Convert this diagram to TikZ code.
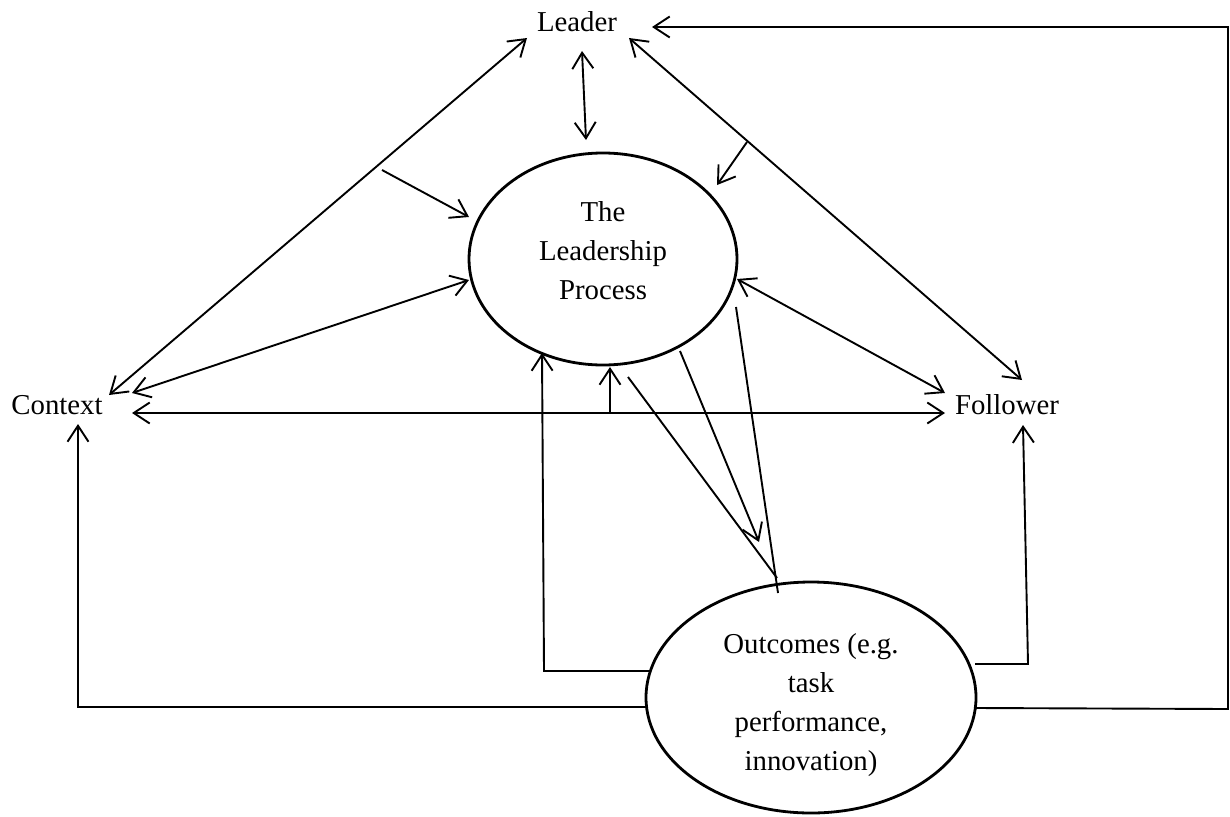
\documentclass[tikz,border=0pt]{standalone}
\usepackage{fontspec}
\setmainfont{Liberation Serif}
\usetikzlibrary{arrows.meta,shapes.geometric}
\begin{document}
\begin{tikzpicture}[x=1pt,y=-1pt,
  conn/.style={line width=1.9pt, line join=miter},
  hd/.style={-{Straight Barb[length=16pt,width=21pt]}},
  dbl/.style={{Straight Barb[length=16pt,width=21pt]}-{Straight Barb[length=16pt,width=21pt]}},
  lbl/.style={font=\fontsize{28.8}{39}\selectfont, inner sep=0pt, align=center},
  oval/.style={ellipse, draw, line width=2.8pt, inner sep=0pt}]
\useasboundingbox (0,0) rectangle (1230,816);
% nodes
\node[lbl] (leader) at (577,22) {Leader};
\node[lbl] (context) at (57,405) {Context};
\node[lbl] (follower) at (1007,405) {Follower};
\node[oval, minimum width=268pt, minimum height=212pt] (proc) at (603,259) {};
\node[lbl] (proctext) at (603,251) {The\\Leadership\\Process};
\node[oval, minimum width=330pt, minimum height=231pt] (out) at (811,697.5) {};
\node[lbl] (outtext) at (811,705) {Outcomes (e.g.\\task\\performance,\\innovation)};
% end points
\coordinate (cL) at (109,395);   \coordinate (lC) at (527,38);
\coordinate (lP) at (582,51);    \coordinate (pL) at (586,140);
\coordinate (lF) at (629,38);    \coordinate (fL) at (1022,380);
\coordinate (mR) at (747,142);   \coordinate (pR) at (717,185);
\coordinate (mL) at (382,170);   \coordinate (pLL) at (469,217);
\coordinate (cP) at (132,393);   \coordinate (pC) at (469,280);
\coordinate (cF) at (132,413);   \coordinate (fC) at (945,413);
\coordinate (hm) at (610,413);   \coordinate (pB) at (610,367);
\coordinate (pF) at (737,279);   \coordinate (fP) at (945,393);
\coordinate (oP) at (650,671);   \coordinate (pO) at (542,353);
\coordinate (oC) at (646,707);   \coordinate (cO) at (78,424);
\coordinate (oF) at (975,664);   \coordinate (fO) at (1023,425);
\coordinate (oL) at (976,708);   \coordinate (lO) at (652,27);
\coordinate (pa) at (628,377);   \coordinate (oa) at (777,578);
\coordinate (pb) at (680,351);   \coordinate (ob) at (759,542);
\coordinate (pc) at (736,307);   \coordinate (oc) at (778,593);
% connectors
\draw[conn,dbl] (cL) -- (lC);
\draw[conn,dbl] (lP) -- (pL);
\draw[conn,dbl] (lF) -- (fL);
\draw[conn,hd] (mR) -- (pR);
\draw[conn,hd] (mL) -- (pLL);
\draw[conn,dbl] (cP) -- (pC);
\draw[conn,dbl] (cF) -- (fC);
\draw[conn,hd] (hm) -- (pB);
\draw[conn,dbl] (pF) -- (fP);
\draw[conn,hd] (oP) -- (544,671) -- (pO);
\draw[conn,hd] (oC) -- (78,707) -- (cO);
\draw[conn,hd] (oF) -- (1028,664) -- (fO);
\draw[conn,hd] (oL) -- (1228,709) -- (1228,27) -- (lO);
\draw[conn] (pa) -- (oa);
\draw[conn,hd] (pb) -- (ob);
\draw[conn] (pc) -- (oc);
\end{tikzpicture}
\end{document}
